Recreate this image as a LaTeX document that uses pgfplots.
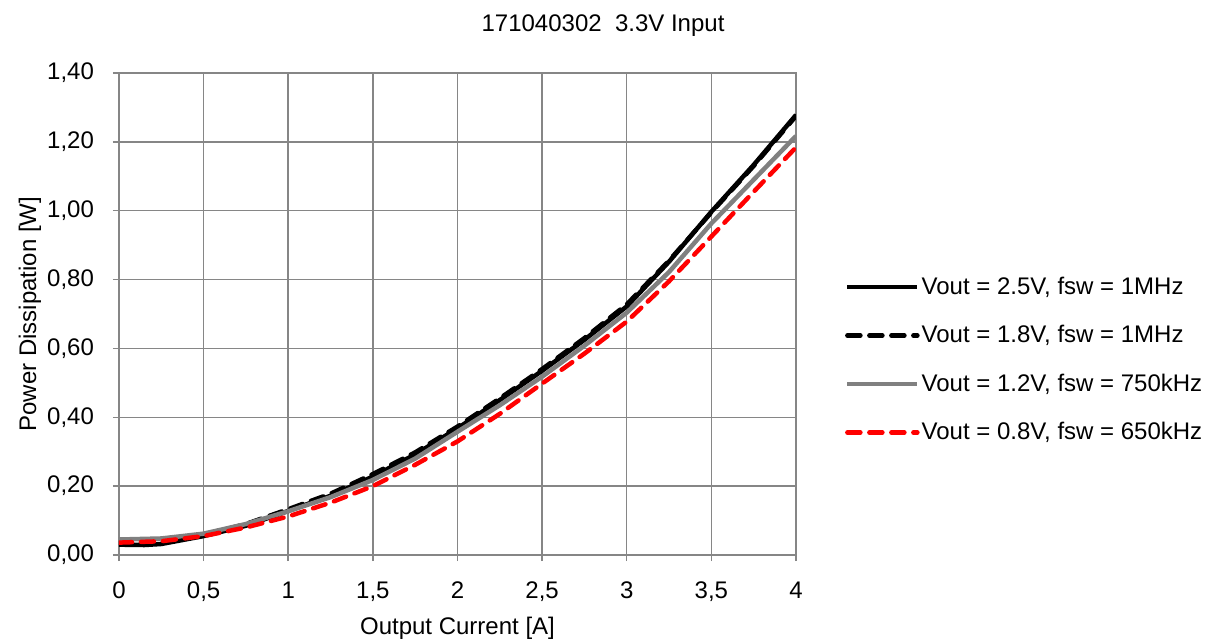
\documentclass[border=0pt]{standalone}
\usepackage{fontspec}
\setmainfont{Liberation Sans}
\usepackage{pgfplots}
\pgfplotsset{compat=1.18}

\definecolor{gridgray}{RGB}{134,134,134}
\definecolor{seriesgray}{RGB}{128,128,128}
\definecolor{seriesred}{RGB}{255,0,0}

\begin{document}
\begin{tikzpicture}[font=\fontsize{12}{14.4}\selectfont]
  % page = 1211 x 643 px at 0.5pt per px, axis box 677 x 482 px
  \useasboundingbox (-59.5pt,-44pt) rectangle (546pt,277.5pt);
  \begin{axis}[
    at={(0pt,0pt)}, anchor=south west,
    scale only axis,
    width=338.5pt, height=241pt,
    xmin=0, xmax=4,
    ymin=0, ymax=1.4,
    xtick={0,0.5,...,4},
    ytick={0,0.2,...,1.4},
    /pgf/number format/assume math mode=true,
    /pgf/number format/use comma,
    xticklabel style={/pgf/number format/fixed, /pgf/number format/precision=1, yshift=-7pt},
    yticklabel style={/pgf/number format/fixed, /pgf/number format/fixed zerofill,
      /pgf/number format/precision=2, xshift=-6pt},
    grid=major,
    major grid style={gridgray, line width=0.75pt},
    axis line style={gridgray, line width=0.75pt},
    tick style={gridgray, line width=0.75pt},
    tick align=outside,
    major tick length=3pt,
    xtick pos=bottom, ytick pos=left,
    title={171040302\ \ 3.3V Input},
    title style={at={(rel axis cs:0.715,1)}, anchor=center, yshift=17.5pt},
    xlabel={Output Current [A]},
    ylabel={Power Dissipation [W]},
    xlabel style={at={(axis description cs:0.5,0)}, anchor=center, yshift=-36.5pt},
    ylabel style={at={(axis description cs:0,0.5)}, anchor=center, yshift=44.5pt},
    legend style={at={(rel axis cs:1.072,0.405)}, anchor=west, draw=none, fill=none,
      row sep=12pt, inner sep=0pt,
      nodes={inner sep=1pt, anchor=west}},
    legend cell align=left,
    legend image code/.code={\draw[#1] (0pt,0pt) -- (35pt,0pt);},
  ]
    \addplot[black, line width=2.25pt] coordinates {
      (0,0.030) (0.15,0.029) (0.25,0.032) (0.5,0.055) (0.75,0.085) (1,0.128) (1.25,0.172)
      (1.5,0.228) (1.75,0.292) (2,0.368) (2.25,0.450) (2.5,0.535) (2.75,0.625)
      (3,0.722) (3.25,0.852) (3.5,0.997) (3.75,1.133) (4,1.278)
    };
    \addlegendentry{Vout = 2.5V, fsw = 1MHz}

    \addplot[black, line width=2.25pt, line cap=round, dash pattern=on 6.5pt off 4.5pt] coordinates {
      (0,0.035) (0.25,0.038) (0.5,0.058) (0.75,0.090) (1,0.133) (1.25,0.178)
      (1.5,0.235) (1.75,0.298) (2,0.373) (2.25,0.455) (2.5,0.540) (2.75,0.630)
      (3,0.728) (3.25,0.855) (3.5,0.995) (3.75,1.130) (4,1.275)
    };
    \addlegendentry{Vout = 1.8V, fsw = 1MHz}

    \addplot[seriesgray, line width=2.25pt] coordinates {
      (0,0.045) (0.25,0.048) (0.5,0.062) (0.75,0.090) (1,0.127) (1.25,0.168)
      (1.5,0.218) (1.75,0.280) (2,0.358) (2.25,0.435) (2.5,0.518) (2.75,0.608)
      (3,0.704) (3.25,0.822) (3.5,0.963) (3.75,1.090) (4,1.217)
    };
    \addlegendentry{Vout = 1.2V, fsw = 750kHz}

    \addplot[seriesred, line width=2.25pt, line cap=round, dash pattern=on 6.5pt off 4.5pt] coordinates {
      (0,0.036) (0.25,0.040) (0.5,0.055) (0.75,0.080) (1,0.112) (1.25,0.152)
      (1.5,0.200) (1.75,0.262) (2,0.330) (2.25,0.410) (2.5,0.498) (2.75,0.585)
      (3,0.678) (3.25,0.795) (3.5,0.925) (3.75,1.055) (4,1.184)
    };
    \addlegendentry{Vout = 0.8V, fsw = 650kHz}
  \end{axis}
\end{tikzpicture}
\end{document}
